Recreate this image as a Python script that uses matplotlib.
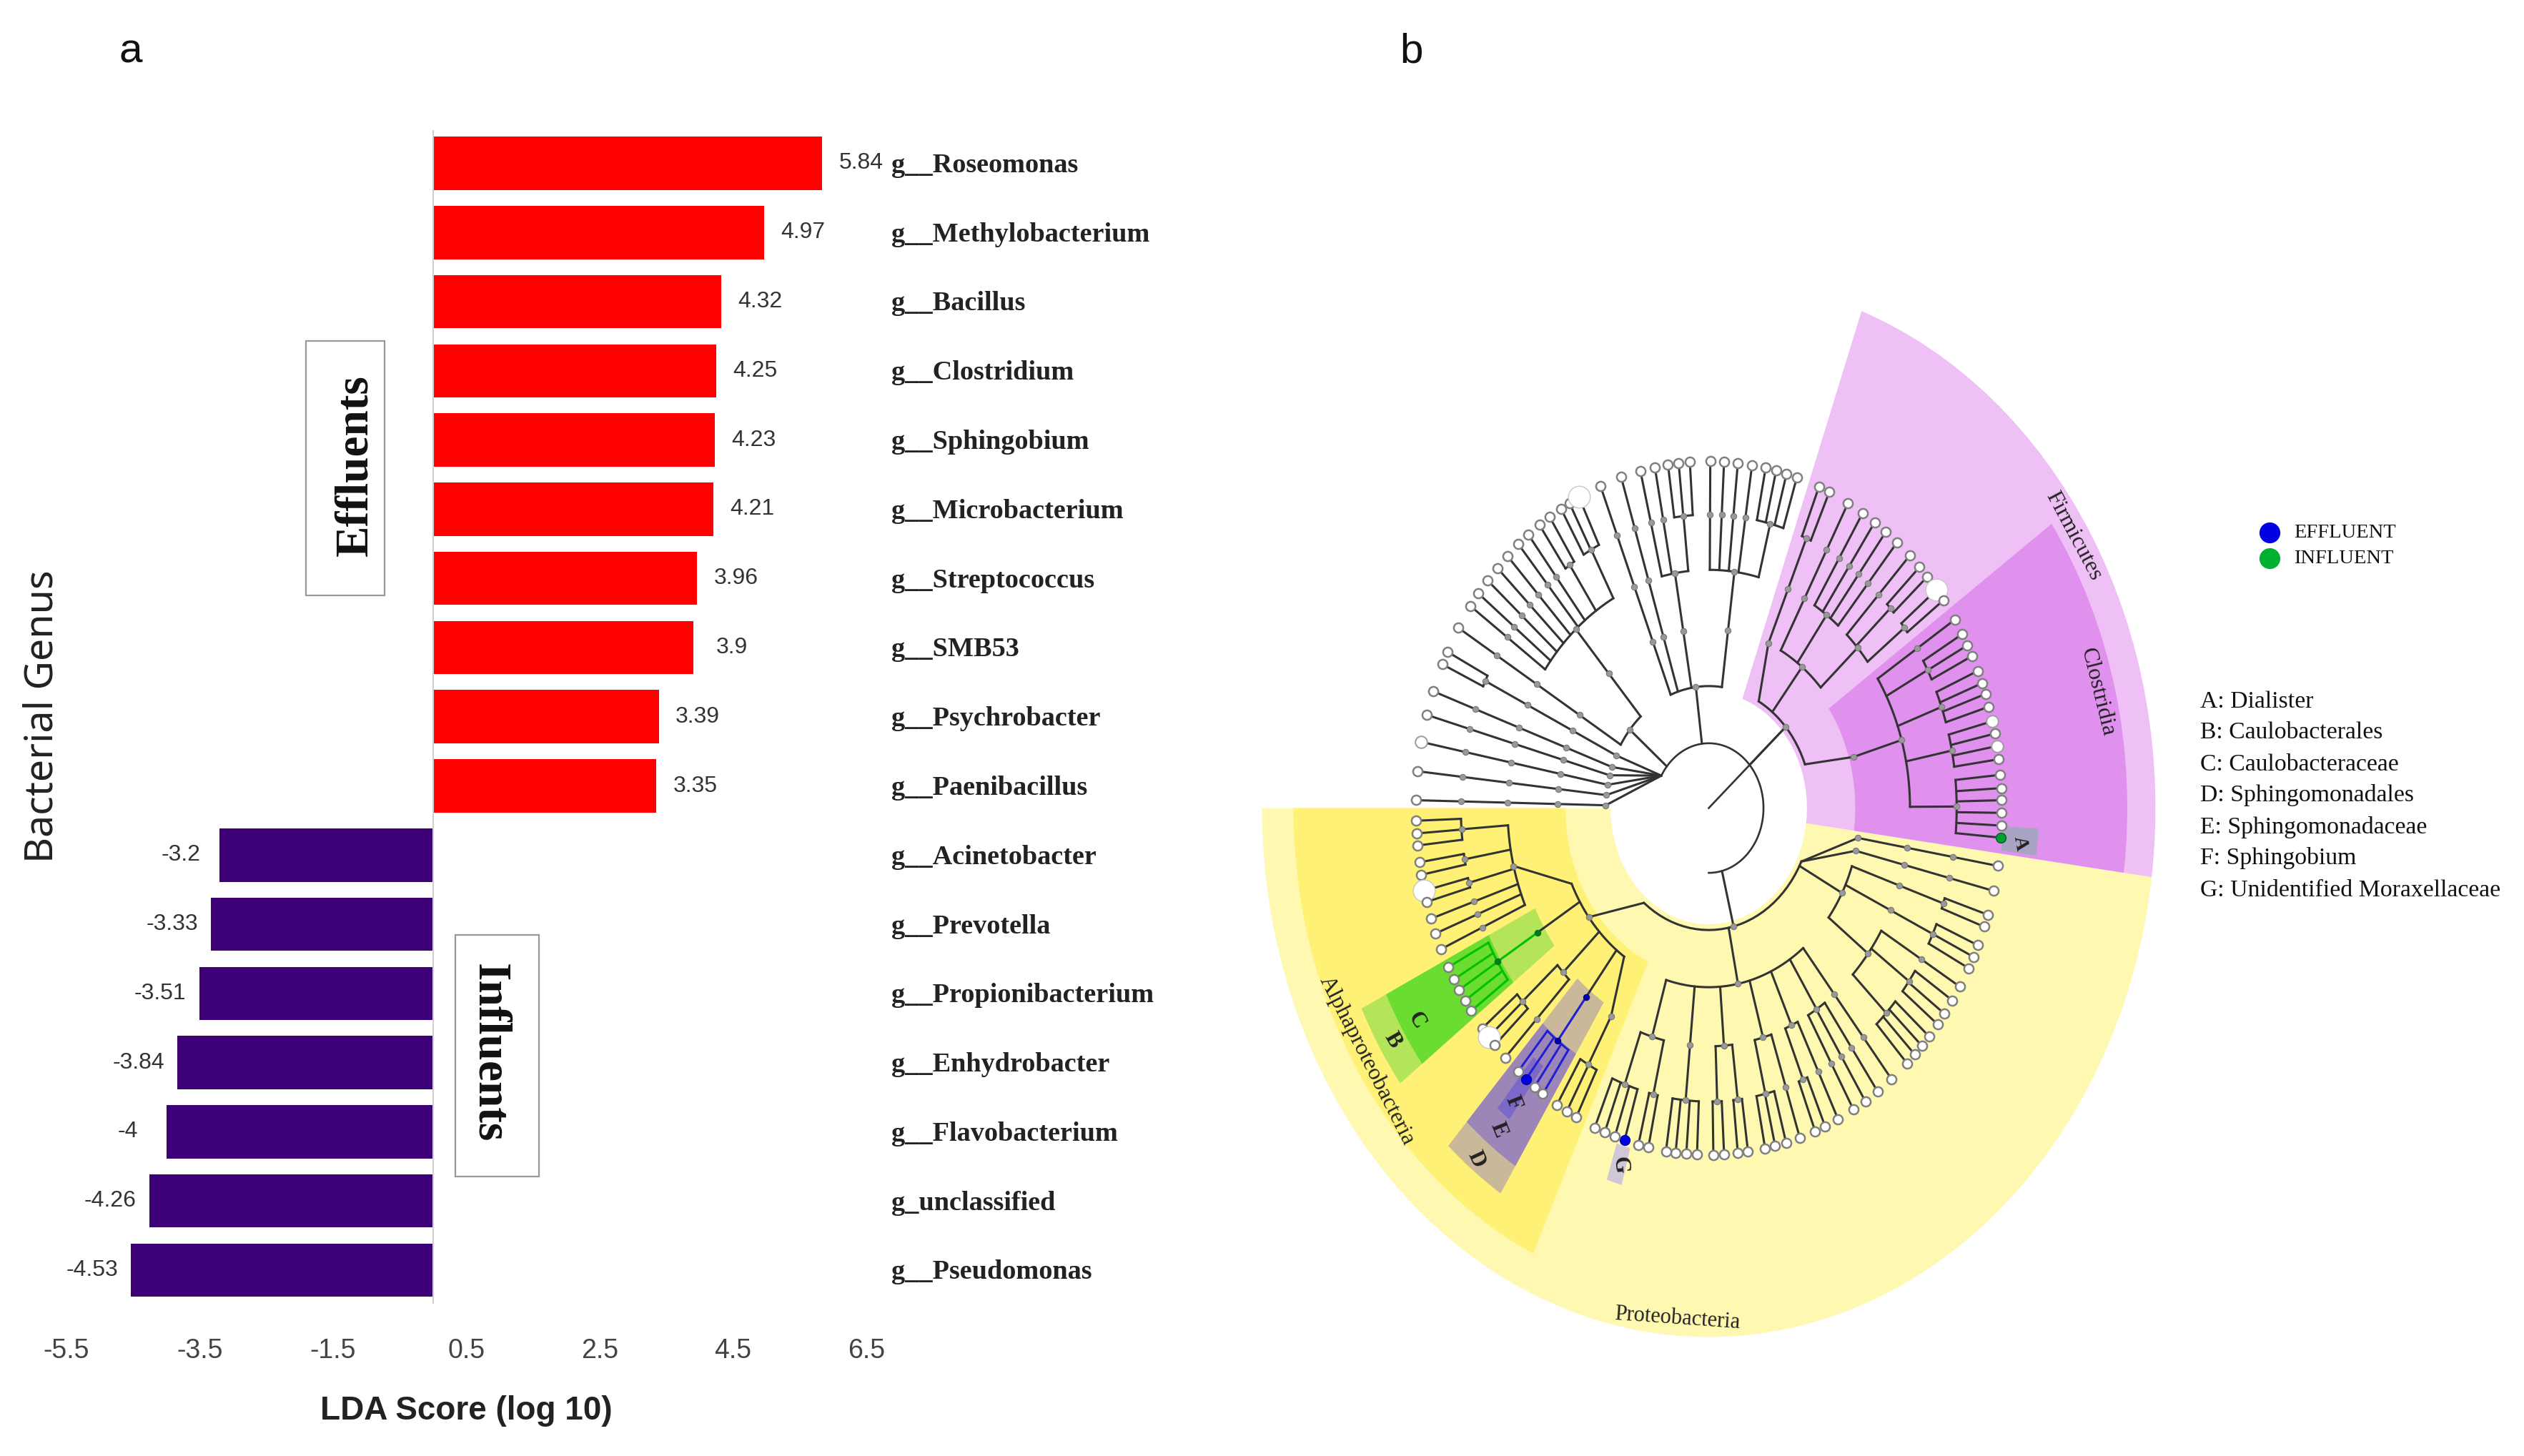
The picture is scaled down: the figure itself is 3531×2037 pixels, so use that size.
"""LDA score bars (a) and LEfSe style cladogram (b)."""
import numpy as np
import matplotlib
matplotlib.use("Agg")
import matplotlib.pyplot as plt
from matplotlib.patches import Wedge, Rectangle

W, H = 3531, 2037
S = 2.252  # the coordinates below were read at 1568 px wide

GENERA = ["g__Roseomonas", "g__Methylobacterium", "g__Bacillus", "g__Clostridium", "g__Sphingobium",
          "g__Microbacterium", "g__Streptococcus", "g__SMB53", "g__Psychrobacter", "g__Paenibacillus",
          "g__Acinetobacter", "g__Prevotella", "g__Propionibacterium", "g__Enhydrobacter",
          "g__Flavobacterium", "g_unclassified", "g__Pseudomonas"]
LDA = [5.84, 4.97, 4.32, 4.25, 4.23, 4.21, 3.96, 3.9, 3.39, 3.35,
       -3.2, -3.33, -3.51, -3.84, -4, -4.26, -4.53]
XTICKS = [-5.5, -3.5, -1.5, 0.5, 2.5, 4.5, 6.5]

# cladogram: nested clades, numbers are leaf angles in degrees
PHYLUM_TOP = [111.7, 107.4, [[103.5, 100.6, [98, 95.9, 93.7]]],
              [[89.7, 87, 84.3, 81.5, [78.8, 76.7, 74.6, 72.5]]]]
PHYLUM_LEFT = [148.7, [[144.4, 141.8, 139, 136.2, 133.4, 130.5, 128, [125.3, 122.9], [120.3, 118.4, 116.3]]]]
PHYLUM_PAIR = [[[[155.5, 153.2]]]]
SINGLE_PHYLA = [160.3, 164.4, 169, 173.9, 178.7]

FIRMICUTES = [[[[67.9, 65.7]]],
              [61.6, [58.3, 55.5, 52.8, 50], [46.7, [44, 41.8], [39, 36.8]]],
              [[32.9, [30.1, 28, 26], [23.3, 21.1, 19.2, 17], [14.5, 12.4, 10.3, 8.1],
                [5.5, 3.3, 1.3, -0.8, -2.9, -4.9]]]]

RIGHT_CLASS = [[[-17.9, -20]], [[-23.3, -25.4, -27.5]],
               [-31, [-33.7, -36.4, -38.6], [-41.2, -43.3, -45.3, -47.4]]]
MID_CLASS = [-51.4, [-54.8, -57.7, -60.4], [-63.8, [-66.6, -68.7]], [-71.9, [-74.7, -76.9, -78.9]],
             [[-82.3, -84.3], [-87, -89.1]], [[-92.3, -94.4, -96.5, -98.4]],
             [[-101.9, -103.9], [-106.7, -108.7, -110.8, -112.9]]]
CAULOBACTERALES = [[-144.2, -146.3, -148.4, -150.4, -152.7]]
SPHINGOMONADALES = [[-124.5, -126.5, -128.6, -130.6]]
RHIZOBIALES = [[-177.9, -175.8, -173.8], [-171, -168.9], [-166.2, -164.3], -161.4, -158.8, -156]
ALPHA = [RHIZOBIALES, CAULOBACTERALES, [[-140.6, -138.7, -136.9], -134], SPHINGOMONADALES,
         [[-121.2, -119, -116.9]]]
PROTEOBACTERIA = [-9.6, -13.8, RIGHT_CLASS, MID_CLASS, ALPHA]
PHYLA = [FIRMICUTES, PHYLUM_TOP, PHYLUM_LEFT, PHYLUM_PAIR] + SINGLE_PHYLA + [PROTEOBACTERIA]

RINGS = [34, 64, 94, 125, 154, 182]
BIG_LEAVES = [116.3, 39, -138.7, -166.2]
MID_LEAVES = [14.5, 10.3, 169]
BLUE_LEAVES = [-128.6, -106.7]
GREEN_LEAVES = [-4.9]

# (inner r, outer r, start deg, end deg, colour)
SECTORS = [(61, 277.5, -180, -7.5, "#FFF8B0"), (89, 258, -180, -115, "#FFF176"),
           (61, 277.5, -7.5, 70, "#EFC0F6"), (91, 260, -7.5, 35, "#E091EE"),
           (120, 240, -154, -143, "#B4E45A"), (152, 223, -154, -143, "#6BDD30"),
           (121, 240, -132.4, -122.6, "#C9B99A"), (153, 223, -132.4, -122.6, "#9C86B8"),
           (170, 205, -129.8, -127.2, "#7B68C8"), (185, 205, -108, -105.3, "#D0C8D8"),
           (183, 205, -7, -3, "#A9A3C4")]
ARC_LIMITS = {id(PROTEOBACTERIA): (-129, -26), id(ALPHA): (-155, -124), id(FIRMICUTES): (21, 61)}
HIGHLIGHT = {id(CAULOBACTERALES): "#00C000", id(SPHINGOMONADALES): "#2020D0"}
ROOT_ARC = (-90, 150)

LEGEND = [("EFFLUENT", "#0000E0", 331), ("INFLUENT", "#00B030", 347)]
KEY = ["A: Dialister", "B: Caulobacterales", "C: Caulobacteraceae", "D: Sphingomonadales",
       "E: Sphingomonadaceae", "F: Sphingobium", "G: Unidentified Moraxellaceae"]
KEY_Y = [436, 455, 475, 494, 514, 533, 553]
# (text, x, y, rotation, size, weight)
CLADE_LABELS = [("Firmicutes", 1288, 333, -62, 23, "normal"), ("Clostridia", 1303, 430, -76, 23, "normal"),
                ("Alphaproteobacteria", 849, 659, -63, 23, "normal"), ("Proteobacteria", 1042, 819, -4, 22, "normal"),
                ("A", 1255, 524, -80, 20, "bold"), ("B", 865, 646, -60, 22, "bold"), ("C", 880, 634, -60, 22, "bold"),
                ("D", 917, 720, -65, 22, "bold"), ("E", 931, 702, -68, 22, "bold"), ("F", 940, 685, -68, 22, "bold"),
                ("G", 1006, 724, -85, 22, "bold")]

SANS = "Liberation Sans"
SERIF = "Liberation Serif"
INK = "#333333"


def ftext(x, y, s, **kw):
    kw.setdefault("ha", "center")
    kw.setdefault("va", "center")
    fig.text(x * S / W, 1 - y * S / H, s, **kw)


def add_axes_px(left, top, right, bottom):
    return fig.add_axes([left / W, 1 - bottom / H, (right - left) / W, (bottom - top) / H])


def plot_bars():
    ax = add_axes_px(93, 183, 1212, 1822.5)
    y = np.arange(len(LDA))
    colors = ["#FF0000" if v > 0 else "#3D0077" for v in LDA]
    ax.barh(y, LDA, height=0.77, color=colors)
    ax.set_xlim(XTICKS[0], XTICKS[-1])
    ax.set_ylim(len(LDA) - 0.53, -0.47)
    for i, (name, v) in enumerate(zip(GENERA, LDA)):
        ax.annotate(f"{v:g}", (v, i), xytext=(39 if v > 0 else -39, 0), textcoords="offset points",
                    ha="center", va="center", family=SANS, fontsize=23, color="#333333")
        ax.text(6.88, i + 0.03, name, family=SERIF, weight="bold", fontsize=27.5, va="center", color="#222222")
    for side in ["top", "right", "bottom"]:
        ax.spines[side].set_visible(False)
    ax.spines["left"].set_position(("data", 0))
    ax.spines["left"].set_color("#D0D0D0")
    ax.spines["left"].set_linewidth(1.5)
    ax.set_yticks([])
    ax.set_xticks(XTICKS, [f"{t:g}" for t in XTICKS], family=SANS, fontsize=27, color="#444444")
    ax.tick_params(axis="x", length=0, pad=36)
    ax.set_xlabel("LDA Score (log 10)", family=SANS, weight="bold", fontsize=33, labelpad=31, color="#222222")
    # boxed group names
    for x0, y0, x1, y1, name, rot, tx, ty in [(190, 212, 239, 370, "Effluents", 90, 221, 289),
                                              (283, 581, 335, 731, "Influents", -90, 304, 654)]:
        fig.add_artist(Rectangle((x0 * S / W, 1 - y1 * S / H), (x1 - x0) * S / W, (y1 - y0) * S / H,
                                 transform=fig.transFigure, fc="white", ec="#999999", lw=1.6))
        ftext(tx, ty, name, family=SERIF, weight="bold", fontsize=47, rotation=rot, color="#111111")


def xy(r, deg):
    t = np.deg2rad(deg)
    return r * np.cos(t), r * np.sin(t)


def node_angle(n):
    if isinstance(n, list):
        return (node_angle(n[0]) + node_angle(n[-1])) / 2
    return n


def draw_clade(ax, n, depth, parent_r, parent_deg, color):
    deg = node_angle(n)
    r = RINGS[depth]
    x0, y0 = xy(parent_r, parent_deg)
    x1, y1 = xy(r, deg)
    ax.plot([x0, x1], [y0, y1], color=color, lw=2.2, zorder=3, solid_capstyle="round")
    if not isinstance(n, list):
        # unbranched run out to the leaf ring
        if depth < len(RINGS) - 1:
            ax.plot(x1, y1, "o", ms=6, mfc="#999999", mec="#777777", mew=0.8, zorder=4)
            draw_clade(ax, n, depth + 1, r, deg, color)
        else:
            draw_leaf(ax, n, x1, y1)
        return
    col = HIGHLIGHT.get(id(n), color)
    angles = [node_angle(c) for c in n]
    lo, hi = ARC_LIMITS.get(id(n), (min(angles), max(angles)))
    t = np.linspace(lo, hi, 30)
    ax.plot(*xy(r, t), color=col, lw=2.2, zorder=3)
    dot = "#999999" if col == INK else ("#007A20" if col == "#00C000" else "#0000A0")
    if depth > 0:
        ax.plot(x1, y1, "o", ms=6, mfc=dot, mec=dot if col != INK else "#777777", mew=0.8, zorder=4)
    for c, a in zip(n, angles):
        draw_clade(ax, c, depth + 1, r, float(np.clip(a, lo, hi)), col)


def draw_leaf(ax, deg, x, y):
    if deg in BLUE_LEAVES:
        ax.plot(x, y, "o", ms=10, mfc="#0000E0", mec="#0000A0", zorder=5)
    elif deg in GREEN_LEAVES:
        ax.plot(x, y, "o", ms=10, mfc="#00A030", mec="#006020", zorder=5)
    elif deg in BIG_LEAVES:
        ax.plot(x, y, "o", ms=22, mfc="white", mec="#C8C8C8", mew=1, zorder=5)
    elif deg in MID_LEAVES:
        ax.plot(x, y, "o", ms=12, mfc="white", mec="#A0A0A0", mew=1.5, zorder=5)
    else:
        ax.plot(x, y, "o", ms=9.5, mfc="white", mec="#808080", mew=1.8, zorder=5)


def plot_cladogram():
    # one data unit is S px across and S*1.184 px down: the tree is stretched in the source
    cx, cy = 1061.5 * S, 502 * S
    half_x, half_y = 300, 335
    ax = add_axes_px(cx - half_x * S, cy - half_y * S * 1.184, cx + half_x * S, cy + half_y * S * 1.184)
    ax.set_xlim(-half_x, half_x)
    ax.set_ylim(-half_y, half_y)
    ax.axis("off")
    for r0, r1, a0, a1, col in SECTORS:
        ax.add_patch(Wedge((0, 0), r1, a0, a1, width=r1 - r0, fc=col, ec="none", zorder=1))
    ax.plot(*xy(RINGS[0], np.linspace(*ROOT_ARC, 120)), color=INK, lw=1.9, zorder=3)
    x, y = xy(RINGS[1], node_angle(FIRMICUTES))
    ax.plot([0, x], [0, y], color=INK, lw=1.9, zorder=3)
    for p in PHYLA:
        a = float(np.clip(node_angle(p), *ROOT_ARC))
        draw_clade(ax, p, 1, RINGS[0], a, INK)

    for name, x, y, rot, size, weight in CLADE_LABELS:
        ftext(x, y, name, family=SERIF, fontsize=size, rotation=rot, weight=weight, color="#222222")
    for name, col, y in LEGEND:
        ax.figure.add_artist(plt.Line2D([1410 * S / W], [1 - y * S / H], marker="o", ms=20, mfc=col, mec=col,
                                        transform=fig.transFigure))
        ftext(1425, y, name, family=SERIF, fontsize=20.5, ha="left", color="#111111")
    for name, y in zip(KEY, KEY_Y):
        ftext(1367, y, name, family=SERIF, fontsize=24.3, ha="left", color="#111111")


fig = plt.figure(figsize=(W / 100, H / 100), dpi=100)
plot_cladogram()
plot_bars()
ftext(81, 32, "a", family=SANS, fontsize=42, color="#111111")
ftext(877, 32, "b", family=SANS, fontsize=42, color="#111111")
ftext(26, 445, "Bacterial Genus", family="Noto Sans", fontsize=40, rotation=90, color="#222222")
fig.savefig("out.png", dpi=100)
